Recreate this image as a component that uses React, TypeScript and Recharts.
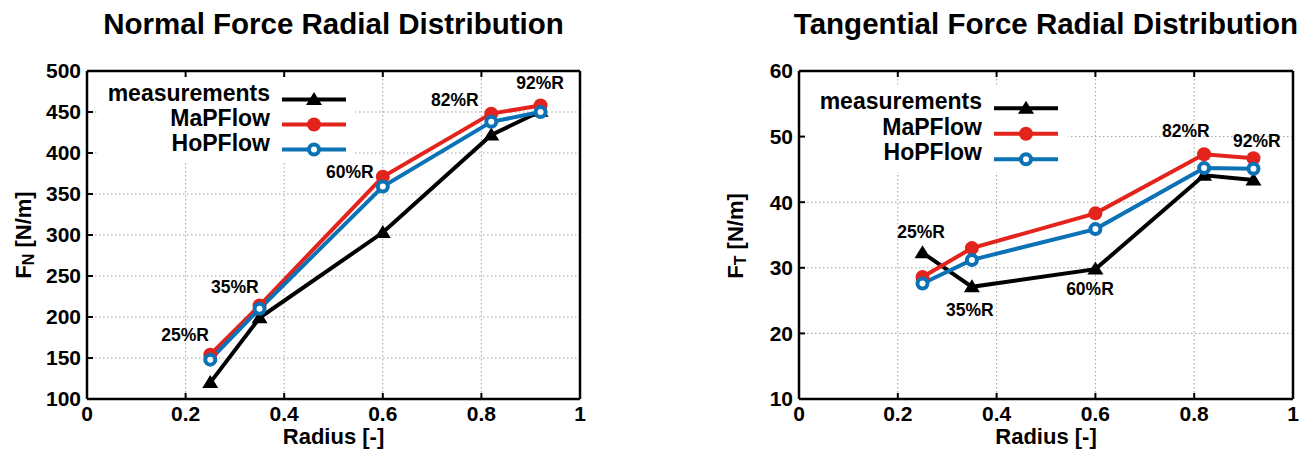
import React from 'react';
import {
    ComposedChart, Line, XAxis, YAxis, CartesianGrid, ReferenceDot
} from 'recharts';

// radial stations (r/R)
const RADIUS = [0.25, 0.35, 0.6, 0.82, 0.92];
const STATION_LABELS = ['25%R', '35%R', '60%R', '82%R', '92%R'];

// normal force [N/m]
const FN_MEAS = [120, 199, 303, 422, 451];
const FN_MAPFLOW = [154, 214, 371, 448, 458];
const FN_HOPFLOW = [148, 210, 359, 438, 450];

// tangential force [N/m]
const FT_MEAS = [32.3, 27.1, 29.8, 44.1, 43.4];
const FT_MAPFLOW = [28.6, 33.0, 38.3, 47.3, 46.7];
const FT_HOPFLOW = [27.6, 31.2, 35.9, 45.2, 45.1];

// where the station labels sit (data units)
const FN_LABEL_R = [0.199, 0.30, 0.533, 0.746, 0.919];
const FN_LABEL_V = [178, 237, 377, 465, 485];
const FT_LABEL_R = [0.247, 0.346, 0.589, 0.783, 0.927];
const FT_LABEL_V = [35.5, 23.6, 26.8, 50.9, 49.3];

const X_TICKS = [0, 0.2, 0.4, 0.6, 0.8, 1];
const FN_TICKS = [100, 150, 200, 250, 300, 350, 400, 450, 500];
const FT_TICKS = [10, 20, 30, 40, 50, 60];

const COLORS = {
    meas: '#000000',
    mapflow: '#e3241c',
    hopflow: '#0b72b5',
    grid: '#a3a3a3',
};

const FONT = '"Liberation Sans", Arial, Helvetica, sans-serif';

const buildRows = (meas: number[], map: number[], hop: number[]) =>
    RADIUS.map((r, i) => ({ r, meas: meas[i], map: map[i], hop: hop[i] }));

const TriangleDot = ({ cx, cy }: any) => {
    if (cx == null || cy == null) return null;
    return <path d={`M${cx},${cy - 7.5} L${cx + 8},${cy + 5.5} L${cx - 8},${cy + 5.5} Z`} fill={COLORS.meas} />;
};

const FilledDot = ({ cx, cy }: any) => {
    if (cx == null || cy == null) return null;
    return <circle cx={cx} cy={cy} r={7} fill={COLORS.mapflow} />;
};

const RingDot = ({ cx, cy }: any) => {
    if (cx == null || cy == null) return null;
    return <circle cx={cx} cy={cy} r={5} fill="#ffffff" stroke={COLORS.hopflow} strokeWidth={4} />;
};

const LegendBox = ({ box }: any) => {
    const rows = [
        { name: 'measurements', color: COLORS.meas, Dot: TriangleDot },
        { name: 'MaPFlow', color: COLORS.mapflow, Dot: FilledDot },
        { name: 'HoPFlow', color: COLORS.hopflow, Dot: RingDot },
    ];
    return (
        <div style={{ position: 'absolute', left: box.left, top: box.top, width: box.width, height: box.height, background: '#fff' }}>
            <svg width={box.width} height={box.height}>
                {rows.map((row, i) => {
                    const y = box.firstRow + i * box.rowGap;
                    return (
                        <g key={row.name}>
                            <text x={box.textRight} y={y + 1} textAnchor="end" fontSize={23} fontWeight={700} fontFamily={FONT} fill="#000">
                                {row.name}
                            </text>
                            <line x1={box.lineStart} x2={box.lineEnd} y1={y} y2={y} stroke={row.color} strokeWidth={4} />
                            <row.Dot cx={(box.lineStart + box.lineEnd) / 2} cy={y} />
                        </g>
                    );
                })}
            </svg>
        </div>
    );
};

const ForcePanel = ({ cfg }: any) => {
    const rows = buildRows(cfg.meas, cfg.map, cfg.hop);
    const tickStyle = { fontSize: 21, fontWeight: 700, fill: '#000', fontFamily: FONT };
    return (
        <div style={{ position: 'absolute', left: cfg.left, top: 0, width: 600, height: 459 }}>
            <ComposedChart width={600} height={459} data={rows} margin={cfg.margin}>
                <CartesianGrid stroke={COLORS.grid} strokeDasharray="1.5 2.5" strokeWidth={1} />
                <XAxis
                    dataKey="r" type="number" domain={[0, 1]} ticks={X_TICKS} height={30}
                    axisLine={{ stroke: '#000', strokeWidth: 2.5 }}
                    tickLine={{ stroke: '#000', strokeWidth: 2 }}
                    tickSize={-6} tickMargin={13} tick={tickStyle}
                    label={{
                        content: ({ viewBox }: any) => (
                            <text x={viewBox.x + viewBox.width / 2} y={444} textAnchor="middle" fontSize={22} fontWeight={700} fontFamily={FONT} fill="#000">
                                Radius [-]
                            </text>
                        ),
                    }}
                />
                <XAxis
                    xAxisId="top" orientation="top" dataKey="r" type="number" domain={[0, 1]} ticks={X_TICKS} height={10}
                    axisLine={{ stroke: '#000', strokeWidth: 2.5 }}
                    tickLine={{ stroke: '#000', strokeWidth: 2 }}
                    tickSize={-6} tickFormatter={() => ''}
                    label={{
                        content: ({ viewBox }: any) => (
                            <text x={viewBox.x + viewBox.width / 2} y={34} textAnchor="middle" fontSize={29.5} fontWeight={700} fontFamily={FONT} fill="#000">
                                {cfg.title}
                            </text>
                        ),
                    }}
                />
                <YAxis
                    type="number" domain={cfg.domain} ticks={cfg.ticks} width={60}
                    axisLine={{ stroke: '#000', strokeWidth: 2.5 }}
                    tickLine={{ stroke: '#000', strokeWidth: 2 }}
                    tickSize={-6} tickMargin={12} tick={tickStyle}
                    label={{
                        content: () => (
                            <text
                                x={cfg.yLabelX} y={cfg.yLabelY} textAnchor="middle" dominantBaseline="central"
                                transform={`rotate(-90 ${cfg.yLabelX} ${cfg.yLabelY})`}
                                fontSize={22} fontWeight={700} fontFamily={FONT} fill="#000"
                            >
                                F<tspan fontSize={16} dy={5}>{cfg.sub}</tspan><tspan dy={-5}> [N/m]</tspan>
                            </text>
                        ),
                    }}
                />
                <YAxis
                    yAxisId="right" orientation="right" type="number" domain={cfg.domain} ticks={cfg.ticks} width={10}
                    axisLine={{ stroke: '#000', strokeWidth: 2.5 }}
                    tickLine={{ stroke: '#000', strokeWidth: 2 }}
                    tickSize={-6} tickFormatter={() => ''}
                />
                <Line
                    dataKey="meas" name="measurements" stroke={COLORS.meas} strokeWidth={4}
                    dot={(p: any) => <TriangleDot key={`m${p.index}`} {...p} />} activeDot={false} isAnimationActive={false}
                />
                <Line
                    dataKey="map" name="MaPFlow" stroke={COLORS.mapflow} strokeWidth={4}
                    dot={(p: any) => <FilledDot key={`a${p.index}`} {...p} />} activeDot={false} isAnimationActive={false}
                />
                <Line
                    dataKey="hop" name="HoPFlow" stroke={COLORS.hopflow} strokeWidth={4}
                    dot={(p: any) => <RingDot key={`h${p.index}`} {...p} />} activeDot={false} isAnimationActive={false}
                />
                {STATION_LABELS.map((txt, i) => (
                    <ReferenceDot
                        key={txt} x={cfg.labelR[i]} y={cfg.labelV[i]} r={0}
                        shape={(p: any) => (
                            <text x={p.cx} y={p.cy} textAnchor="middle" dominantBaseline="central" fontSize={17.5} fontWeight={700} fontFamily={FONT} fill="#000">
                                {txt}
                            </text>
                        )}
                    />
                ))}
            </ComposedChart>
            <LegendBox box={cfg.legend} />
        </div>
    );
};

const NORMAL = {
    left: 0,
    title: 'Normal Force Radial Distribution',
    sub: 'N',
    meas: FN_MEAS, map: FN_MAPFLOW, hop: FN_HOPFLOW,
    labelR: FN_LABEL_R, labelV: FN_LABEL_V,
    domain: [100, 500], ticks: FN_TICKS,
    margin: { top: 61, right: 10, bottom: 30, left: 27 },
    yLabelX: 23, yLabelY: 235,
    legend: { left: 98, top: 78, width: 257, height: 85, firstRow: 21.5, rowGap: 25, textRight: 172, lineStart: 184, lineEnd: 248 },
};

const TANGENTIAL = {
    left: 706,
    title: 'Tangential Force Radial Distribution',
    sub: 'T',
    meas: FT_MEAS, map: FT_MAPFLOW, hop: FT_HOPFLOW,
    labelR: FT_LABEL_R, labelV: FT_LABEL_V,
    domain: [10, 60], ticks: FT_TICKS,
    margin: { top: 61, right: 3, bottom: 30, left: 33 },
    yLabelX: 29, yLabelY: 236,
    legend: { left: 100, top: 85, width: 262, height: 87, firstRow: 23.3, rowGap: 25.5, textRight: 176, lineStart: 188, lineEnd: 252 },
};

export default function App() {
    return (
        <div style={{ position: 'absolute', left: 0, top: 0, width: 1306, height: 459, background: '#fff', fontFamily: FONT }}>
            <ForcePanel cfg={NORMAL} />
            <ForcePanel cfg={TANGENTIAL} />
        </div>
    );
}
